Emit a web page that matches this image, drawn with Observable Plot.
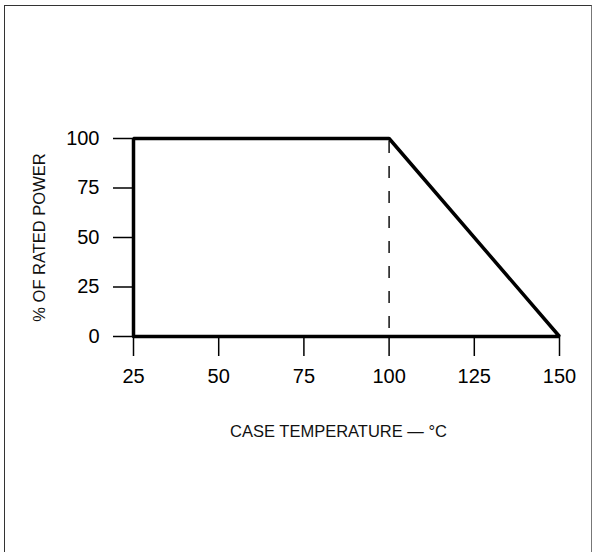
<!DOCTYPE html>
<html>
<head>
<meta charset="utf-8">
<script src="https://cdn.jsdelivr.net/npm/d3@7"></script>
<script src="https://cdn.jsdelivr.net/npm/@observablehq/plot@0.6"></script>
<style>
  html, body { margin: 0; padding: 0; background: #fff; }
  #wrap { position: relative; width: 593px; height: 552px; overflow: hidden; }
  #border { position: absolute; left: 4px; top: 5px; width: 586px; height: 560px;
            border-left: 1.5px solid #333; border-top: 1.5px solid #333; border-right: 1px solid #777;
            pointer-events: none; }
</style>
</head>
<body>
<div id="wrap"><div id="border"></div></div>
<script>
// Derating curve outline (case temperature °C, % of rated power)
const temps = [25, 25, 100, 150, 25];
const power = [0, 100, 100, 0, 0];
// Knee of the curve (dashed reference)
const kneeTemp = [100];
// Tick labels
const xTicks = [25, 50, 75, 100, 125, 150];
const yTicks = [0, 25, 50, 75, 100];
const xTitle = "CASE TEMPERATURE — °C";
const yTitle = "% OF RATED POWER";

const outline = temps.map((t, i) => ({t, p: power[i]}));

const chart = Plot.plot({
  width: 593,
  height: 552,
  marginLeft: 133,
  marginRight: 34,
  marginTop: 138,
  marginBottom: 216,
  style: {fontFamily: "'Liberation Sans', Arial, Helvetica, sans-serif", color: "#000", background: "transparent"},
  x: {domain: [25, 150]},
  y: {domain: [0, 100]},
  marks: [
    Plot.ruleX(kneeTemp, {x: d => d, y1: 0, y2: 100, stroke: "#111", strokeWidth: 1.5, strokeDasharray: "12,13", strokeDashoffset: -8}),
    Plot.axisX(xTicks, {anchor: "bottom", tickSize: 20, tickPadding: 12, fontSize: 20, strokeWidth: 1.5, label: null}),
    Plot.axisY(yTicks, {anchor: "left", tickSize: 20, tickPadding: 14, fontSize: 20, strokeWidth: 1.5, label: null}),
    Plot.line(outline, {x: "t", y: "p", stroke: "#000", strokeWidth: 3.5, strokeLinejoin: "miter"}),
    Plot.text([xTitle], {frameAnchor: "bottom", lineAnchor: "bottom", dy: 100, dx: -8, fontSize: 16.5, fill: "#111"}),
    Plot.text([yTitle], {frameAnchor: "left", textAnchor: "middle", lineAnchor: "middle", rotate: -90, dx: -94, fontSize: 16.5, fill: "#111"})
  ]
});
document.getElementById("wrap").prepend(chart);
</script>
</body>
</html>
